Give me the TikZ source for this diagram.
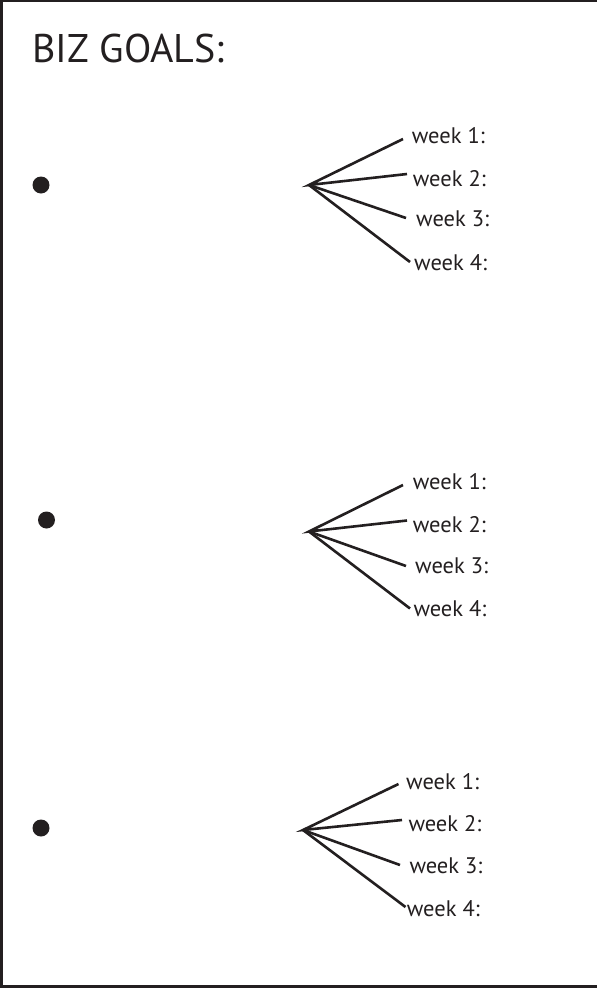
\documentclass[tikz,border=0pt]{standalone}
\usepackage{fontspec}
\setmainfont{PT Sans}
\definecolor{ink}{HTML}{231F20}
\begin{document}
\begin{tikzpicture}[x=1pt,y=-1pt,
  frame/.style={draw=ink,line width=2.4pt},
  bullet/.style={circle,fill=ink,inner sep=0pt,minimum size=17pt},
  branch/.style={draw=ink,line width=2.6pt},
  weeklabel/.style={anchor=base west,inner sep=0pt,text=ink,font=\fontsize{22.5}{24}\selectfont},
  title/.style={anchor=base west,inner sep=0pt,text=ink,font=\fontsize{40}{44}\selectfont}]
\useasboundingbox (0,0) rectangle (597,988);
\fill[white] (0,0) rectangle (597,988);
\draw[frame] (597,1) -- (1.5,1) -- (1.5,986.5) -- (597,986.5);
\node[title] (t) at (32,62) {BIZ GOALS:};
% group 1
\node[bullet] (b1) at (41,185) {};
\coordinate (a1) at (309,185);
\coordinate (e11) at (403,139);
\coordinate (e12) at (407,174);
\coordinate (e13) at (406,218);
\coordinate (e14) at (410,262);
\node[weeklabel] (w11) at (411.7,143.3) {week 1:};
\node[weeklabel] (w12) at (412.7,186) {week 2:};
\node[weeklabel] (w13) at (416,226.7) {week 3:};
\node[weeklabel] (w14) at (414,270) {week 4:};
\draw[branch] (e11) -- (a1) -- (e12);
\draw[branch] (a1) -- (e13);
\draw[branch] (a1) -- (e14);
% group 2
\node[bullet] (b2) at (46.5,520) {};
\coordinate (a2) at (309,531.5);
\coordinate (e21) at (403,485);
\coordinate (e22) at (407,520.5);
\coordinate (e23) at (406,566);
\coordinate (e24) at (410,608.5);
\node[weeklabel] (w21) at (412.7,489.3) {week 1:};
\node[weeklabel] (w22) at (412.7,532.7) {week 2:};
\node[weeklabel] (w23) at (415,573.3) {week 3:};
\node[weeklabel] (w24) at (413.3,616.7) {week 4:};
\draw[branch] (e21) -- (a2) -- (e22);
\draw[branch] (a2) -- (e23);
\draw[branch] (a2) -- (e24);
% group 3
\node[bullet] (b3) at (41,828) {};
\coordinate (a3) at (303,830);
\coordinate (e31) at (398.5,784);
\coordinate (e32) at (402,820);
\coordinate (e33) at (400,865);
\coordinate (e34) at (405.5,907);
\node[weeklabel] (w31) at (406,789.5) {week 1:};
\node[weeklabel] (w32) at (408.3,831.7) {week 2:};
\node[weeklabel] (w33) at (409.3,873.3) {week 3:};
\node[weeklabel] (w34) at (406.7,916.7) {week 4:};
\draw[branch] (e31) -- (a3) -- (e32);
\draw[branch] (a3) -- (e33);
\draw[branch] (a3) -- (e34);
\end{tikzpicture}
\end{document}
